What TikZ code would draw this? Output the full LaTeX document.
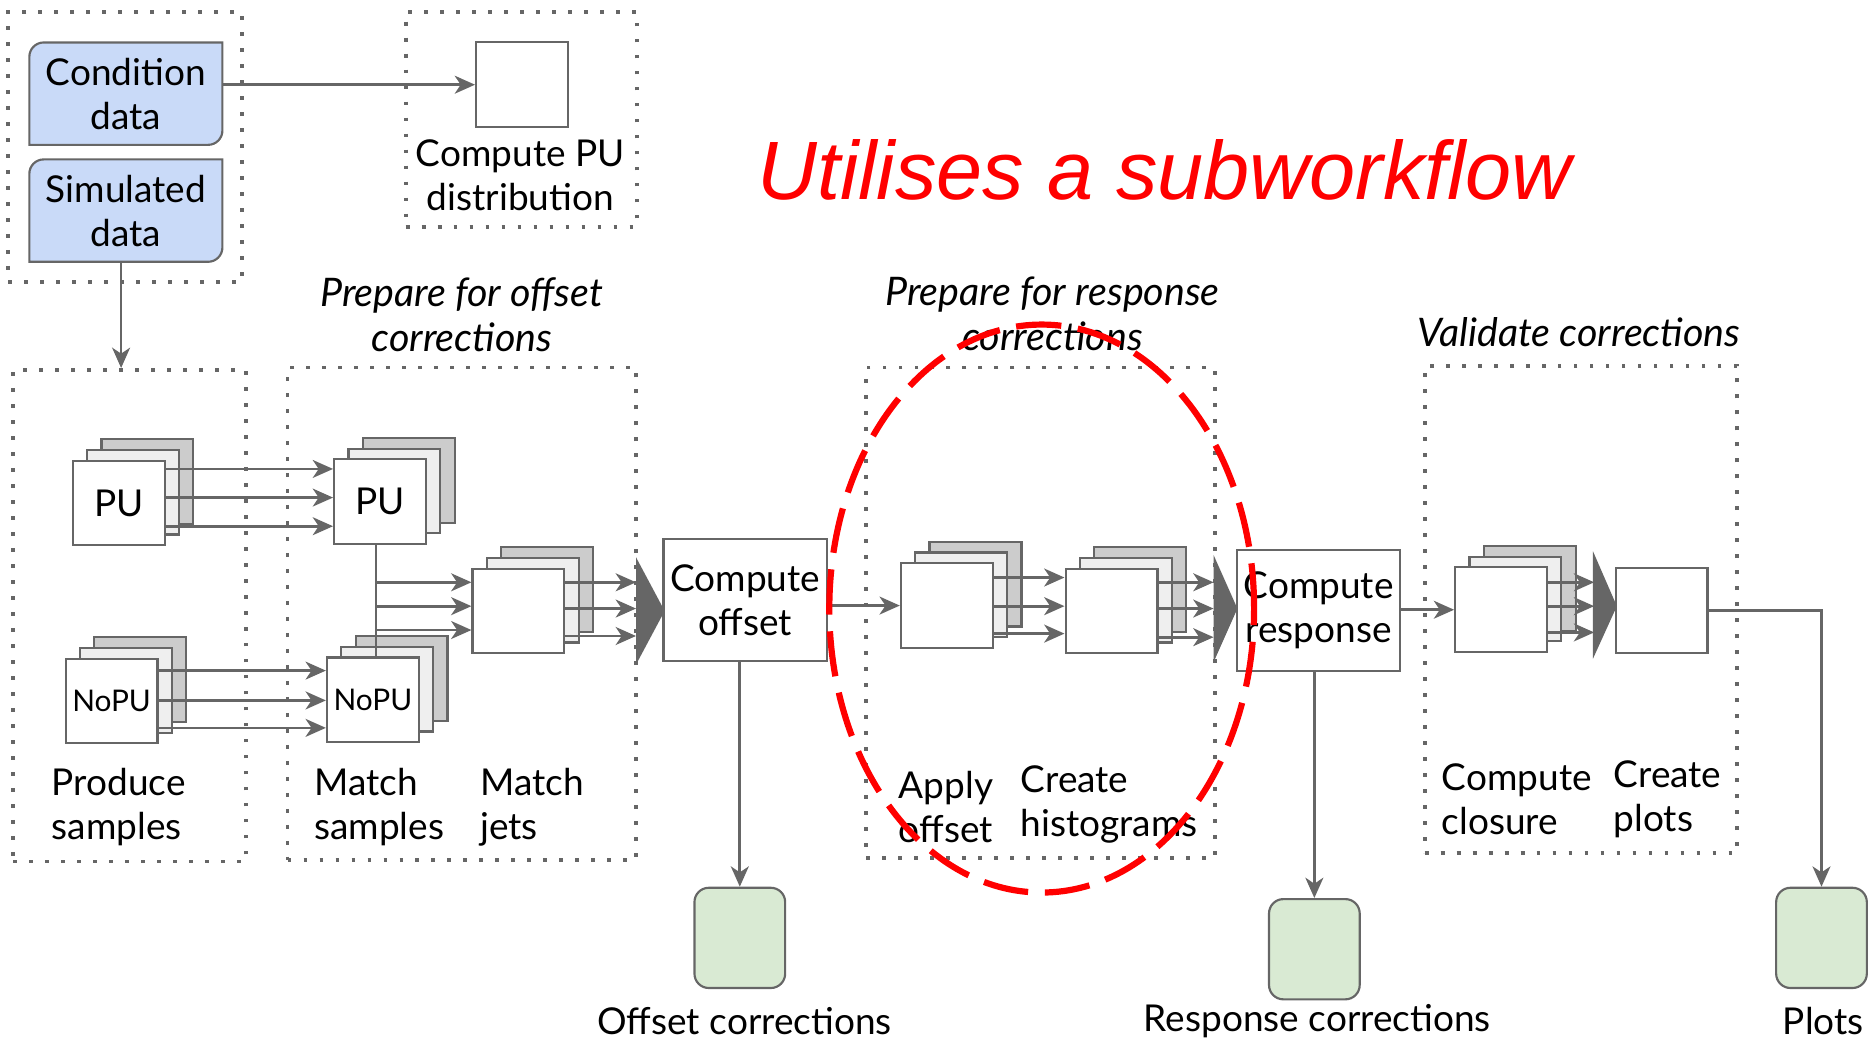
\documentclass[tikz,border=0pt]{standalone}
\usepackage{fontspec}
\setmainfont{Lato}
\newfontfamily\titlefont{Liberation Sans}
\usetikzlibrary{arrows.meta,fit,backgrounds}
\definecolor{lc}{HTML}{666666}
\definecolor{bluef}{HTML}{C9DAF8}
\definecolor{greenf}{HTML}{D9EAD3}
\definecolor{midf}{HTML}{EFEFEF}
\definecolor{backf}{HTML}{CCCCCC}
\newcommand\mainsize{\fontsize{15.5pt}{18.5pt}\selectfont}
\newcommand\smallsz{\fontsize{12.5pt}{15pt}\selectfont}
\tikzset{
 conn/.style={draw=lc, line width=1.15pt},
 arr/.style={conn, -{Stealth[length=8.5pt,width=7.5pt,inset=2.5pt]}},
 dotbox/.style={draw=lc, line width=1.6pt, dash pattern=on 1.6pt off 5.1pt, inner sep=0pt},
 card/.style={draw=lc, line width=0.9pt, fill=white, minimum width=38.5pt, minimum height=35.5pt, inner sep=0pt, font=\mainsize},
 midcard/.style={card, fill=midf},
 backcard/.style={card, fill=backf},
 bigbox/.style={draw=lc, line width=0.9pt, fill=white, inner sep=0pt, font=\mainsize, align=center},
 datanode/.style={inner sep=0pt, minimum width=80.5pt, minimum height=42.5pt, font=\mainsize, align=center},
 bluepath/.style={draw=lc, line width=0.9pt, fill=bluef},
 store/.style={draw=lc, line width=0.9pt, fill=greenf, rounded corners=6pt, minimum width=38pt, minimum height=42pt, inner sep=0pt},
 lbl/.style={inner sep=0pt, font=\mainsize, align=left, anchor=west},
 clbl/.style={inner sep=0pt, font=\mainsize, align=center},
 head/.style={inner sep=0pt, font=\fontsize{16.5pt}{19pt}\selectfont\itshape, align=center},
 tri/.style={fill=lc},
 redell/.style={draw=red, line width=2.6pt, dash pattern=on 19pt off 7pt}
}
\newcommand\stk[4]{%
 \node[backcard] (#1b) at (#2+24,#3-18) {};
 \node[midcard] (#1m) at (#2+12,#3-9) {};
 \node[card] (#1) at (#2,#3) {#4};}
\begin{document}
\begin{tikzpicture}[x=0.5pt,y=-0.5pt]
\useasboundingbox (0,0) rectangle (1568,871);
% dotted groups
\node[dotbox, fit={(7,10) (203,236)}] (gin) {};
\node[dotbox, fit={(340,10) (534,190)}] (gpu) {};
\node[dotbox, fit={(11,310) (206,722)}] (gprod) {};
\node[dotbox, fit={(241,308) (533,721)}] (gmatch) {};
\node[dotbox, fit={(726,308) (1018,719)}] (gresp) {};
\node[dotbox, fit={(1194,307) (1456,715)}] (gval) {};
% input data
\node[datanode] (cond) at (105.5,78.5) {Condition\\data};
\node[datanode] (sim) at (105.5,176.5) {Simulated\\data};
\begin{scope}[on background layer]
\foreach \n in {cond,sim}{
 \draw[bluepath] (\n.south west) [rounded corners=6pt] -- (\n.north west) [sharp corners] -- (\n.north east)
   [rounded corners=6pt] -- (\n.south east) [sharp corners] -- (\n.south west) -- cycle;
}
\end{scope}
\node[card] (cpu) at (437.5,71) {};
\node[clbl] (cpulbl) at (436,147) {Compute PU\\distribution};
\draw[arr] (cond.east |- cpu.west) -- (cpu.west);
\draw[arr] ([xshift=-2pt]sim.south) -- ([xshift=-2pt]sim.south |- gprod.north);
% title
\node[inner sep=0pt, font=\titlefont\itshape\fontsize{34.7pt}{40pt}\selectfont, text=red] (title) at (976,142) {Utilises a subworkflow};
% headings
\node[head] (h1) at (387,264) {Prepare for offset\\corrections};
\node[head] (h2) at (882,263) {Prepare for response\\corrections};
\node[head] (h3) at (1323,278) {Validate corrections};
% stacks
\stk{puA}{99.5}{421.5}{PU}
\stk{nopuA}{93.5}{587.5}{\smallsz NoPU}
\stk{puB}{318.5}{420.5}{PU}
\stk{nopuB}{312.5}{586.5}{\smallsz NoPU}
\stk{jets}{434.5}{512}{}
\stk{apply}{793.5}{507.5}{}
\stk{hist}{931.5}{512}{}
\stk{clos}{1258}{511}{}
\node[card] (cplots) at (1392.5,511.5) {};
% arrows in produce/match
\foreach \yy in {393,417,441}{\draw[arr] (puA.east |- 0,\yy) -- (puB.west |- 0,\yy);}
\foreach \yy in {562,587,610}{\draw[arr] (nopuA.east |- 0,\yy) -- (nopuB.west |- 0,\yy);}
\coordinate (vx) at (315,0);
\draw[conn] (puB.south -| vx) -- (nopuB.north -| vx);
\foreach \yy in {488,508,528}{\draw[arr] (vx |- 0,\yy) -- (jets.west |- 0,\yy);}
% triangle 1 and compute offset
\coordinate (t1) at (533,512);
\foreach \yy in {488,510,533}{\draw[arr] (jets.east |- 0,\yy) -- (t1 |- 0,\yy);}
\fill[tri] (533,467) -- (557,512) -- (533,557) -- cycle;
\node[bigbox, minimum width=68.5pt, minimum height=51pt] (coff) at (624.5,503) {Compute\\offset};
\node[store] (s1) at (620,786) {};
\draw[arr] (coff.east |- apply.west) -- (apply.west);
\draw[arr] (coff.south -| s1.north) -- (s1.north);
% response preparation
\foreach \yy in {484,508,531}{\draw[arr] (apply.east |- 0,\yy) -- (hist.west |- 0,\yy);}
\coordinate (t2) at (1017,510);
\foreach \yy in {488,510,534}{\draw[arr] (hist.east |- 0,\yy) -- (t2 |- 0,\yy);}
\fill[tri] (1017,465) -- (1037,510) -- (1017,555) -- cycle;
\node[bigbox, minimum width=68pt, minimum height=50.5pt] (cresp) at (1105,511.5) {Compute\\response};
\node[store] (s2) at (1101.5,795.5) {};
\draw[arr] (cresp.east |- clos.west) -- (clos.west);
\draw[arr] (cresp.south -| s2.north) -- (s2.north);
% validation
\coordinate (t3) at (1336,508);
\foreach \yy in {488,508,530}{\draw[arr] (clos.east |- 0,\yy) -- (t3 |- 0,\yy);}
\fill[tri] (1335,462) -- (1355,508) -- (1335,552) -- cycle;
\node[store] (s3) at (1526.5,786) {};
\draw[arr] (cplots.east) -| (s3.north);
% labels
\node[lbl] (l1) at (43,676.5) {Produce\\samples};
\node[lbl] (l2) at (263,676.5) {Match\\samples};
\node[lbl] (l3) at (402,676.5) {Match\\jets};
\node[lbl] (l4) at (753,676.5) {Apply\\offset};
\node[lbl] (l5) at (855,674.5) {Create\\histograms};
\node[lbl] (l6) at (1208,669.5) {Compute\\closure};
\node[lbl] (l7) at (1352,669.5) {Create\\plots};
\node[clbl] (b1) at (624,856) {Offset corrections};
\node[clbl] (b2) at (1104,856) {Response corrections};
\node[clbl] (b3) at (1528,856) {Plots};
% red ellipse
\draw[redell] (873,510) ellipse [x radius=89pt, y radius=119pt];
\end{tikzpicture}
\end{document}
